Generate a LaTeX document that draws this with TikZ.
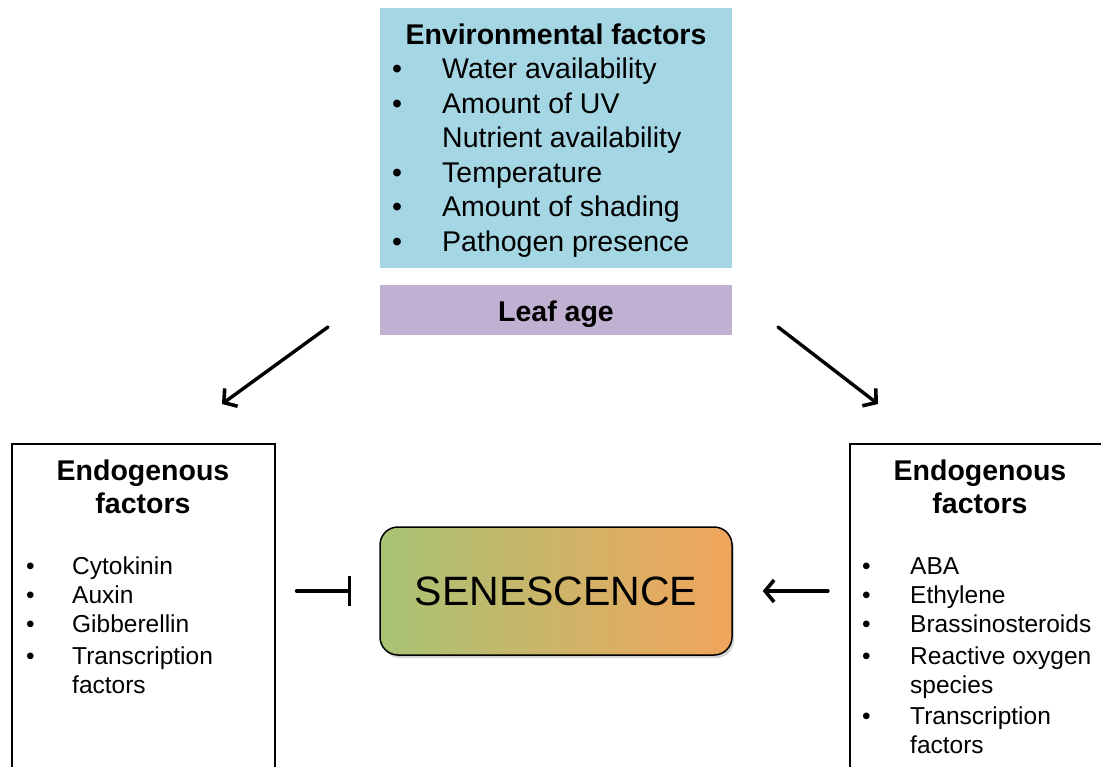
\documentclass[tikz,border=0pt]{standalone}
\usepackage{fontspec}
\setmainfont{Liberation Sans}
\usetikzlibrary{arrows.meta}
\usetikzlibrary{positioning}
\usetikzlibrary{shadows}
\definecolor{mcyan}{RGB}{165, 214, 227}
\definecolor{mpurple}{RGB}{192, 177, 211}
\definecolor{mgreen}{RGB}{168, 195, 116}
\definecolor{morange}{RGB}{241, 165, 92}
\newcommand{\headsize}{\fontsize{28.5}{33}\selectfont\bfseries}
\newcommand{\envsize}{\fontsize{28.5}{34.6}\selectfont}
\newcommand{\itemsize}{\fontsize{24.5}{29}\selectfont}
\tikzset{fillbox/.style = {inner sep = 0, minimum width = 352pt},
  endobox/.style = {draw, line width = 1.5pt, inner sep = 0, anchor = north west,
    minimum width = 263pt, minimum height = 360pt},
  listtext/.style = {anchor = north west, inner sep = 0},
  fat/.style = {line width = 3.4pt, line cap = round},
  pointer/.style = {fat, -{Straight Barb[length = 9pt, width = 22pt, line width = 3.6pt]}},
  blocker/.style = {fat, -{Bar[width = 30pt]}}}

\begin{document}
\begin{tikzpicture}[x = 1pt, y = -1pt]
      \useasboundingbox (0, 0) rectangle (1101, 767);
      \clip (0, 0) rectangle (1101, 767);

      % top boxes
      \node [fillbox, fill = mcyan, minimum height = 260pt] (env) at (556, 138) {};
      \node [font = \headsize] (envhead) at (556, 34) {Environmental factors};
      \node [listtext, font = \envsize] (envlist) at (392, 54) {%
        \begin{tabular}{@{}p{50pt}@{}l@{}}
          \textbullet & Water availability\\
          \textbullet & Amount of UV\\
                      & Nutrient availability\\
          \textbullet & Temperature\\
          \textbullet & Amount of shading\\
          \textbullet & Pathogen presence
        \end{tabular}};
      \node [fillbox, fill = mpurple, minimum height = 50pt] (leaf) at (556, 310) {};
      \node [font = \headsize] (leaftext) at (556, 314) {Leaf age};

      \coordinate (ls) at (328, 327);
      \coordinate (le) at (222, 404);
      \coordinate (rs) at (778, 327);
      \coordinate (re) at (878, 404);
      \draw [pointer] (ls) -- (le);
      \draw [pointer] (rs) -- (re);

      % side boxes
      \node [endobox] (endoL) at (11, 443) {};
      \node [font = \headsize, align = center] (endoLhead) at (143, 487) {Endogenous\\factors};
      \node [listtext, font = \itemsize] (endoLlist) at (26, 554) {%
        \begin{tabular}{@{}p{46pt}@{}l@{}}
          \textbullet & Cytokinin\\
          \textbullet & Auxin\\
          \textbullet & Gibberellin\\[3pt]
          \textbullet & Transcription\\
                      & factors
        \end{tabular}};

      \node [endobox] (endoR) at (849, 443) {};
      \node [font = \headsize, align = center] (endoRhead) at (980, 487) {Endogenous\\factors};
      \node [listtext, font = \itemsize] (endoRlist) at (862, 554) {%
        \begin{tabular}{@{}p{48pt}@{}l@{}}
          \textbullet & ABA\\
          \textbullet & Ethylene\\
          \textbullet & Brassinosteroids\\[3pt]
          \textbullet & Reactive oxygen\\
                      & species\\[2pt]
          \textbullet & Transcription\\
                      & factors
        \end{tabular}};

      % centre
      \node [draw, line width = 1.5pt, rounded corners = 18pt, minimum width = 352pt,
        minimum height = 128pt, left color = mgreen, right color = morange,
        drop shadow = {opacity = 0.35, shadow xshift = 2pt, shadow yshift = -3pt},
        font = \fontsize{41}{41}\selectfont] (sen) at (556, 591) {SENESCENCE};

      \draw [blocker, shorten < = 21pt, shorten > = 28pt] (endoL.east |- sen.west) -- (sen.west);
      \draw [pointer, shorten < = 21pt, shorten > = 30pt] (endoR.west |- sen.east) -- (sen.east);
    \end{tikzpicture}
\end{document}
